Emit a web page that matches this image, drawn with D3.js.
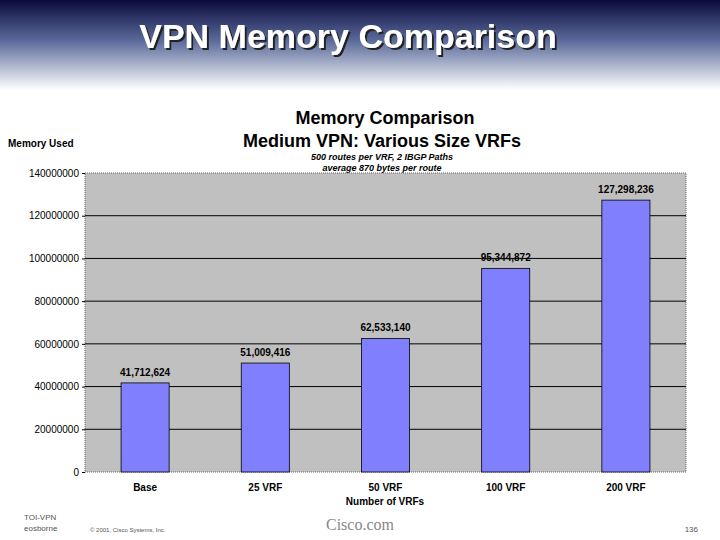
<!DOCTYPE html>
<html><head><meta charset="utf-8">
<script src="https://cdn.jsdelivr.net/npm/d3@7"></script>
<style>body{margin:0;background:#fff}svg{display:block;font-family:Arial,"Liberation Sans",sans-serif}</style>
</head><body>
<script>
// chart data
var categories = ["Base", "25 VRF", "50 VRF", "100 VRF", "200 VRF"];
var memoryUsed = [41712624, 51009416, 62533140, 95344872, 127298236];
var valueLabels = ["41,712,624", "51,009,416", "62,533,140", "95,344,872", "127,298,236"];
var yTicks = [0, 20000000, 40000000, 60000000, 80000000, 100000000, 120000000, 140000000];

var W = 720, H = 540,
	m = {left: 85, right: 686, top: 173, bottom: 472};

var svg = d3.select("body").append("svg").attr("width", W).attr("height", H);

// header gradient + title shadow
var defs = svg.append("defs");
var g = defs.append("linearGradient").attr("id", "hdr").attr("x1", 0).attr("y1", 0).attr("x2", 0).attr("y2", 1);
g.append("stop").attr("offset", "0%").attr("stop-color", "#0a0a3c");
g.append("stop").attr("offset", "45%").attr("stop-color", "#5a6a9a");
g.append("stop").attr("offset", "100%").attr("stop-color", "#ffffff");
defs.append("filter").attr("id", "shadow").append("feDropShadow")
	.attr("dx", 2).attr("dy", 2).attr("stdDeviation", 0.5).attr("flood-color", "#222");
svg.append("rect").attr("width", W).attr("height", 90).attr("fill", "url(#hdr)");

svg.append("text").attr("x", 348).attr("y", 48).attr("text-anchor", "middle")
	.attr("font-size", 34).attr("font-weight", "bold").attr("fill", "#fff")
	.attr("filter", "url(#shadow)").text("VPN Memory Comparison");

// chart titles
svg.append("text").attr("x", 385).attr("y", 124).attr("text-anchor", "middle")
	.attr("font-size", 18).attr("font-weight", "bold").text("Memory Comparison");
svg.append("text").attr("x", 382).attr("y", 147).attr("text-anchor", "middle")
	.attr("font-size", 18).attr("font-weight", "bold").text("Medium VPN: Various Size VRFs");
svg.append("text").attr("x", 382).attr("y", 160).attr("text-anchor", "middle")
	.attr("font-size", 9).attr("font-style", "italic").attr("font-weight", "bold").text("500 routes per VRF, 2 IBGP Paths");
svg.append("text").attr("x", 382).attr("y", 171).attr("text-anchor", "middle")
	.attr("font-size", 9).attr("font-style", "italic").attr("font-weight", "bold").text("average 870 bytes per route");
svg.append("text").attr("x", 8).attr("y", 147).attr("font-size", 10).attr("font-weight", "bold").text("Memory Used");

var x = d3.scaleBand().domain(categories).range([m.left, m.right]).paddingInner(0.6).paddingOuter(0.3);
var y = d3.scaleLinear().domain([0, 140000000]).range([m.bottom, m.top]);

svg.append("rect").attr("x", m.left).attr("y", m.top).attr("width", m.right - m.left).attr("height", m.bottom - m.top)
	.attr("fill", "#c0c0c0").attr("stroke", "#666").attr("stroke-dasharray", "1,1");

svg.append("g").selectAll("line").data(yTicks.slice(1, -1)).join("line")
	.attr("x1", m.left).attr("x2", m.right).attr("y1", function(d) { return y(d); }).attr("y2", function(d) { return y(d); })
	.attr("stroke", "#000");

var ya = svg.append("g").attr("transform", "translate(" + m.left + ",0)")
	.call(d3.axisLeft(y).tickValues(yTicks).tickFormat(d3.format("d")).tickSize(3));
ya.select(".domain").remove();
ya.selectAll("text").attr("font-size", 10).attr("font-family", "Arial, sans-serif");

svg.append("g").selectAll("rect").data(memoryUsed).join("rect")
	.attr("x", function(d, i) { return x(categories[i]); })
	.attr("y", function(d) { return y(d); })
	.attr("width", x.bandwidth())
	.attr("height", function(d) { return m.bottom - y(d); })
	.attr("fill", "#8080ff").attr("stroke", "#000").attr("stroke-width", 0.8);

svg.append("g").selectAll("text").data(memoryUsed).join("text")
	.attr("x", function(d, i) { return x(categories[i]) + x.bandwidth() / 2; })
	.attr("y", function(d) { return y(d) - 7; })
	.attr("text-anchor", "middle").attr("font-size", 10).attr("font-weight", "bold")
	.text(function(d, i) { return valueLabels[i]; });

svg.append("g").selectAll("text").data(categories).join("text")
	.attr("x", function(d) { return x(d) + x.bandwidth() / 2; })
	.attr("y", 491).attr("text-anchor", "middle").attr("font-size", 10).attr("font-weight", "bold")
	.text(function(d) { return d; });

svg.append("text").attr("x", 385).attr("y", 505).attr("text-anchor", "middle")
	.attr("font-size", 10).attr("font-weight", "bold").text("Number of VRFs");

// footer
svg.append("text").attr("x", 24).attr("y", 520).attr("font-size", 8).attr("fill", "#555").text("TOI-VPN");
svg.append("text").attr("x", 24).attr("y", 531).attr("font-size", 8).attr("fill", "#555").text("eosborne");
svg.append("text").attr("x", 90).attr("y", 532).attr("font-size", 6).attr("fill", "#555").text("© 2001, Cisco Systems, Inc.");
svg.append("text").attr("x", 360).attr("y", 530).attr("text-anchor", "middle").attr("font-size", 16)
	.attr("font-family", "Liberation Serif, serif").attr("fill", "#888").text("Cisco.com");
svg.append("text").attr("x", 698).attr("y", 532).attr("text-anchor", "end").attr("font-size", 8).attr("fill", "#555").text("136");
</script>
</body></html>
